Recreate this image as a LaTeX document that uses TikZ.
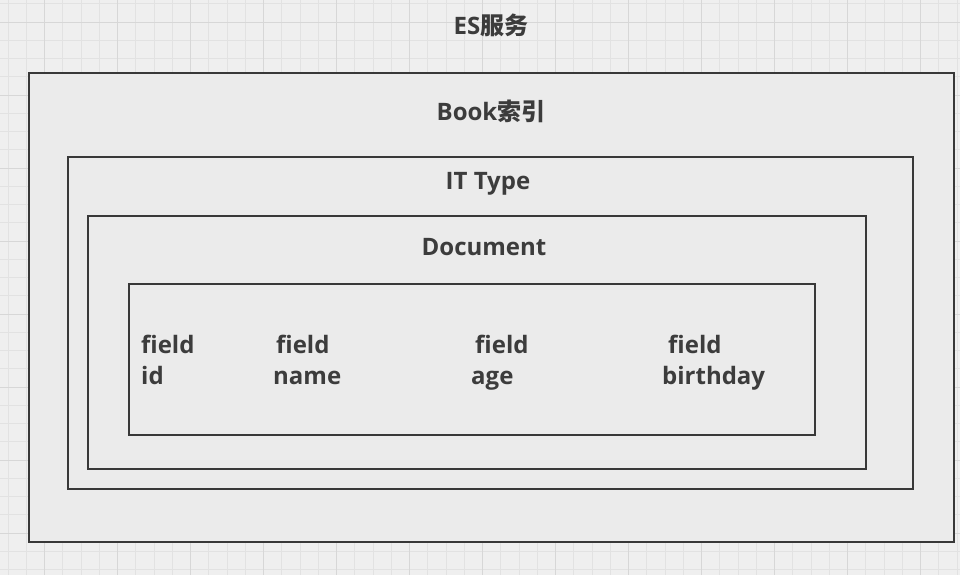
\documentclass[tikz,border=0pt]{standalone}
\usepackage{fontspec}
\setmainfont{Open Sans}
\newfontfamily\cjk{Noto Sans CJK SC}

\definecolor{bggray}{HTML}{EFEFEF}
\definecolor{boxfill}{HTML}{EBEBEB}
\definecolor{gridminor}{HTML}{E2E2E2}
\definecolor{gridmajor}{HTML}{D7D7D7}
\definecolor{boxline}{HTML}{383838}
\definecolor{ink}{HTML}{3C3C3C}

\begin{document}
\begin{tikzpicture}[
x=1pt, y=-1pt,
box/.style={draw=boxline, line width=2pt, fill=boxfill},
title/.style={anchor=base, inner sep=0pt, text=ink, font=\fontsize{24}{28}\selectfont\bfseries},
fieldtext/.style={anchor=base west, inner sep=0pt, text=ink, font=\fontsize{24}{28}\selectfont\bfseries},
]
\fill[bggray] (0,0) rectangle (960,575);
\useasboundingbox (0,0) rectangle (960,575);
% background grid
\foreach \i in {0,...,52}
	\draw[gridminor, line width=0.8pt] ({8+18.25*\i},0) -- ({8+18.25*\i},575);
\foreach \j in {0,...,31}
	\draw[gridminor, line width=0.8pt] (0,{3.75+18.25*\j}) -- (960,{3.75+18.25*\j});
\foreach \i in {0,...,12}
	\draw[gridmajor, line width=0.9pt] ({44+73*\i},0) -- ({44+73*\i},575);
\foreach \j in {0,...,7}
	\draw[gridmajor, line width=0.9pt] (0,{22+73*\j}) -- (960,{22+73*\j});
% nested boxes
\draw[box] (29,73) rectangle (954,542);
\draw[box] (68,157) rectangle (913,489);
\draw[box] (88,216) rectangle (866,469);
\draw[box] (129,284) rectangle (815,435);
% titles
\node[title] (es) at (491,35) {ES{\cjk 服务}};
\node[title] (book) at (491,120.5) {Book{\cjk 索引}};
\node[title] (type) at (488,189) {IT Type};
\node[title] (doc) at (484,255) {Document};
% fields
\node[fieldtext] (f1) at (141,353) {field};
\node[fieldtext] (v1) at (141,384) {id};
\node[fieldtext] (f2) at (276,353) {field};
\node[fieldtext] (v2) at (273,384) {name};
\node[fieldtext] (f3) at (475,353) {field};
\node[fieldtext] (v3) at (471,384) {age};
\node[fieldtext] (f4) at (668,353) {field};
\node[fieldtext] (v4) at (662,384) {birthday};
\end{tikzpicture}
\end{document}
